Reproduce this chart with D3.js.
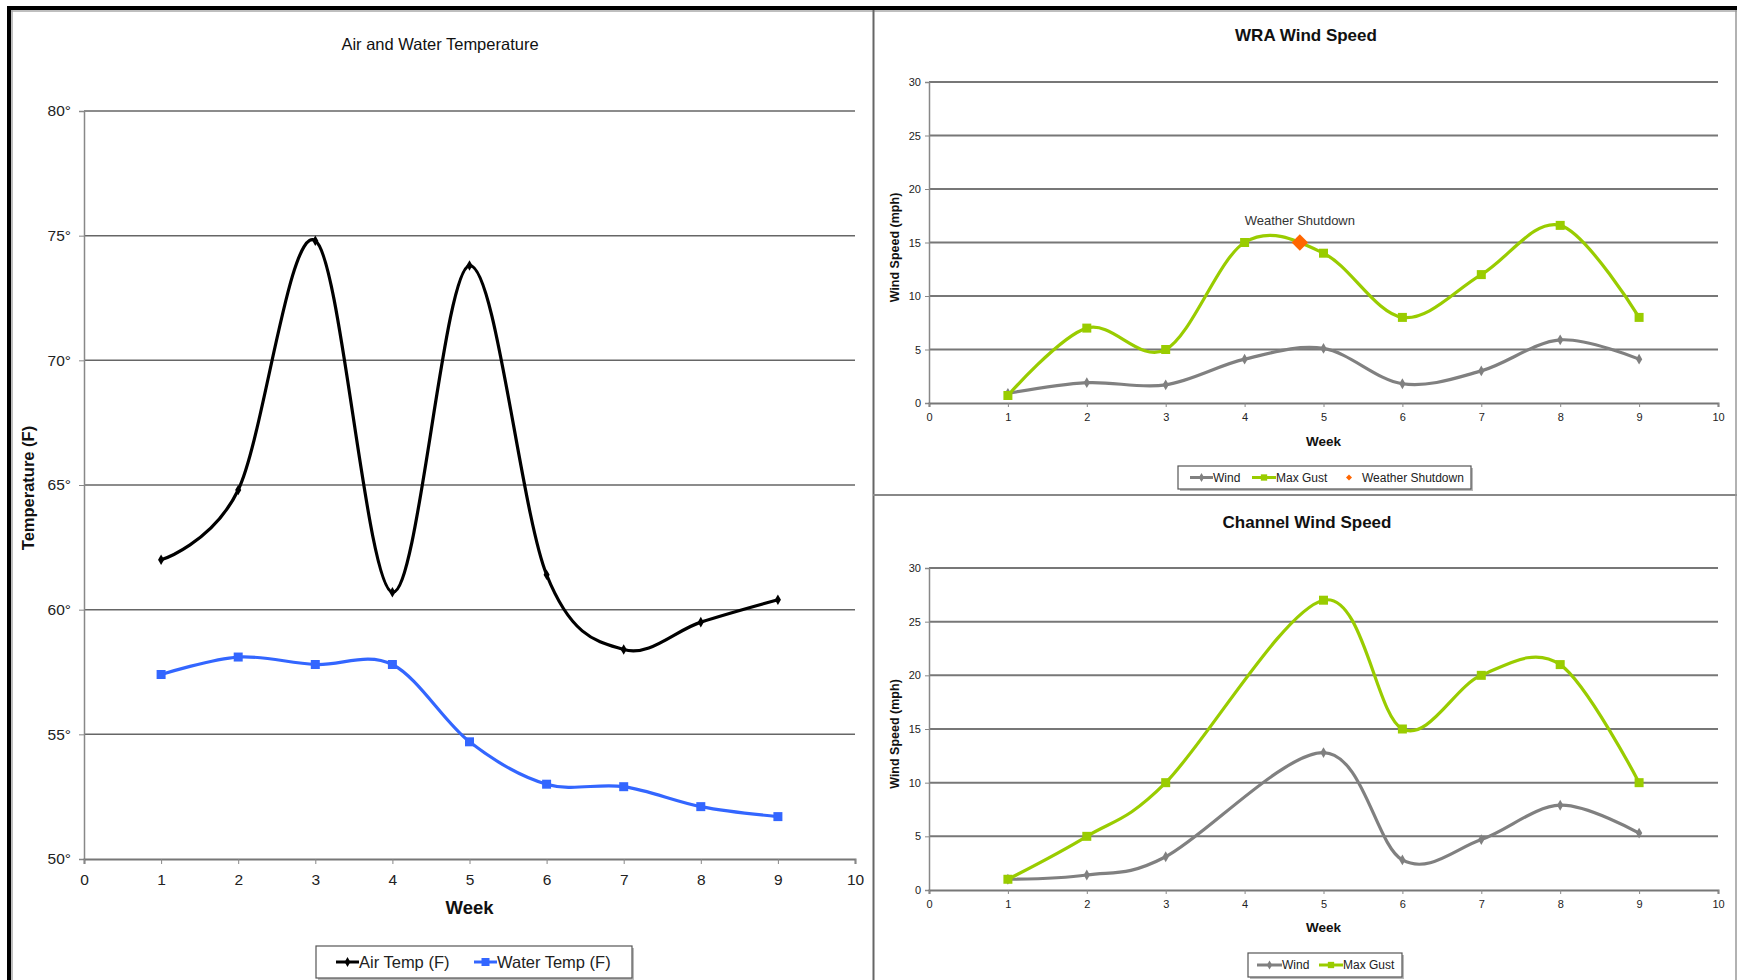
<!DOCTYPE html>
<html>
<head>
<meta charset="utf-8">
<title>Air, Water and Wind</title>
<style>
body { margin: 0; background: #fff; }
svg { display: block; font-family: "Liberation Sans", Arial, sans-serif; }
</style>
</head>
<body>
<svg id="chart"></svg>
<script src="https://cdnjs.cloudflare.com/ajax/libs/d3/7.8.5/d3.min.js"></script>
<script>
// values
var weeks = [1, 2, 3, 4, 5, 6, 7, 8, 9];
var airTemp = [62.0, 64.8, 74.8, 60.7, 73.8, 61.4, 58.4, 59.5, 60.4];
var waterTemp = [57.4, 58.1, 57.8, 57.8, 54.7, 53.0, 52.9, 52.1, 51.7];
var wraWind = [0.9, 1.9, 1.7, 4.1, 5.1, 1.8, 3.0, 5.9, 4.1];
var wraGust = [0.7, 7, 5, 15, 14, 8, 12, 16.6, 8];
var shutdownWeek = [4.7];
var shutdownValue = [15];
var channelWind = [1.0, 1.4, 3.1, null, 12.8, 2.8, 4.7, 7.9, 5.3];
var channelGust = [1, 5, 10, null, 27, 15, 20, 21, 10];
var tempTicks = [50, 55, 60, 65, 70, 75, 80];
var windTicks = [0, 5, 10, 15, 20, 25, 30];
var weekTicks = [0, 1, 2, 3, 4, 5, 6, 7, 8, 9, 10];

var W = 1737, H = 980;
var svg = d3.select('#chart').attr('width', W).attr('height', H);
svg.append('rect').attr('width', W).attr('height', H).attr('fill', '#fff');

function pts(vals) {
  return weeks.map(function(w, i) { return {x: w, y: vals[i]}; })
    .filter(function(d) { return d.y != null; });
}

function drawChart(o) {
  var g = svg.append('g');
  var x = d3.scaleLinear().domain([0, 10]).range([o.left, o.right]);
  var y = d3.scaleLinear().domain(o.yDomain).range([o.bottom, o.top]);

  // gridlines
  g.selectAll('.grid').data(o.yTicks.slice(1)).enter().append('line')
    .attr('x1', o.left).attr('x2', o.right)
    .attr('y1', function(d) { return y(d); }).attr('y2', function(d) { return y(d); })
    .attr('stroke', o.gridColor).attr('stroke-width', o.gridWidth);

  var yAxis = g.append('g').attr('transform', 'translate(' + o.left + ',0)')
    .call(d3.axisLeft(y).tickValues(o.yTicks).tickFormat(o.yFormat).tickSize(o.tick).tickPadding(o.yPad));
  var xAxis = g.append('g').attr('transform', 'translate(0,' + o.bottom + ')')
    .call(d3.axisBottom(x).tickValues(weekTicks).tickSize(o.tick).tickPadding(o.xPad));
  [yAxis, xAxis].forEach(function(a) {
    a.select('.domain').attr('stroke', '#888').attr('stroke-width', 1.5);
    a.selectAll('.tick line').attr('stroke', '#888');
    a.selectAll('text').attr('font-family', null).attr('font-size', o.tickFont).attr('fill', '#222');
  });
  xAxis.select('.domain').attr('stroke', '#777').attr('stroke-width', 2);

  g.append('text').attr('x', o.titleX).attr('y', o.titleY).attr('dy', '0.35em')
    .attr('text-anchor', 'middle').attr('font-size', o.titleFont)
    .attr('font-weight', o.titleBold ? 'bold' : 'normal').attr('fill', '#111').text(o.title);
  g.append('text').attr('x', (o.left + o.right) / 2).attr('y', o.weekY).attr('dy', '0.35em')
    .attr('text-anchor', 'middle').attr('font-size', o.weekFont).attr('font-weight', 'bold')
    .attr('fill', '#111').text('Week');
  g.append('text').attr('transform', 'translate(' + o.yTitleX + ',' + ((o.top + o.bottom) / 2 + o.yTitleShift) + ') rotate(-90)')
    .attr('dy', '0.35em').attr('text-anchor', 'middle').attr('font-size', o.yTitleFont)
    .attr('font-weight', 'bold').attr('fill', '#111').text(o.yTitle);

  var line = d3.line().curve(d3.curveCardinal.tension(0))
    .x(function(d) { return x(d.x); }).y(function(d) { return y(d.y); });

  o.series.forEach(function(s) {
    var data = pts(s.values);
    g.append('path').datum(data).attr('d', line).attr('fill', 'none')
      .attr('stroke', s.color).attr('stroke-width', 3.2).attr('stroke-linejoin', 'round');
    g.selectAll(null).data(data).enter().append('path')
      .attr('transform', function(d) { return 'translate(' + x(d.x) + ',' + y(d.y) + ')'; })
      .attr('d', d3.symbol().type(s.symbol).size(s.size)).attr('fill', s.color);
  });

  if (o.extra) o.extra(g, x, y);

  // legend
  var lg = g.append('g');
  lg.append('rect').attr('x', o.legend.x + 2).attr('y', o.legend.y + 2)
    .attr('width', o.legend.w).attr('height', o.legend.h).attr('fill', '#bbb');
  lg.append('rect').attr('x', o.legend.x).attr('y', o.legend.y)
    .attr('width', o.legend.w).attr('height', o.legend.h).attr('fill', '#fff')
    .attr('stroke', '#555').attr('stroke-width', 1.2);
  var cy = o.legend.y + o.legend.h / 2;
  o.legend.items.forEach(function(it) {
    if (it.line) {
      lg.append('line').attr('x1', it.x).attr('x2', it.x + it.len).attr('y1', cy).attr('y2', cy)
        .attr('stroke', it.color).attr('stroke-width', 3);
    }
    lg.append('path').attr('transform', 'translate(' + (it.x + it.len / 2) + ',' + cy + ')' + (it.rot ? ' rotate(45)' : ''))
      .attr('d', d3.symbol().type(it.symbol).size(it.size)).attr('fill', it.color);
    lg.append('text').attr('x', it.x + it.len + (it.gap || 0)).attr('y', cy).attr('dy', '0.35em')
      .attr('font-size', o.legend.font).attr('fill', '#222').text(it.label);
  });
}

// left chart: temperatures
drawChart({
  left: 84, right: 855, top: 111, bottom: 859,
  yDomain: [50, 80], yTicks: tempTicks, yFormat: function(d) { return d + '°'; },
  gridColor: '#666', gridWidth: 1.5, tick: 5, yPad: 8, xPad: 10, tickFont: 15.5,
  title: 'Air and Water Temperature', titleX: 440, titleY: 44, titleFont: 16.5, titleBold: false,
  weekY: 908, weekFont: 18.5,
  yTitle: 'Temperature (F)', yTitleX: 28, yTitleShift: 3, yTitleFont: 16.5,
  series: [
    {values: airTemp, color: '#000', symbol: d3.symbolDiamond, size: 32},
    {values: waterTemp, color: '#3366ff', symbol: d3.symbolSquare, size: 81}
  ],
  legend: {x: 316, y: 946, w: 316, h: 32, font: 16.5, items: [
    {x: 336, len: 23, line: true, color: '#000', symbol: d3.symbolDiamond, size: 28, label: 'Air Temp (F)'},
    {x: 474, len: 23, line: true, color: '#3366ff', symbol: d3.symbolSquare, size: 64, label: 'Water Temp (F)'}
  ]}
});

// WRA wind speed
drawChart({
  left: 929, right: 1718, top: 82, bottom: 403,
  yDomain: [0, 30], yTicks: windTicks, yFormat: d3.format('d'),
  gridColor: '#777', gridWidth: 2, tick: 4, yPad: 4, xPad: 6, tickFont: 11,
  title: 'WRA Wind Speed', titleX: 1306, titleY: 35, titleFont: 17, titleBold: true,
  weekY: 441, weekFont: 13.5,
  yTitle: 'Wind Speed (mph)', yTitleX: 895, yTitleShift: 5, yTitleFont: 12.5,
  series: [
    {values: wraWind, color: '#808080', symbol: d3.symbolDiamond, size: 34},
    {values: wraGust, color: '#99cc00', symbol: d3.symbolSquare, size: 81}
  ],
  extra: function(g, x, y) {
    g.selectAll(null).data(shutdownWeek).enter().append('path')
      .attr('transform', function(d, i) { return 'translate(' + x(d) + ',' + y(shutdownValue[i]) + ') rotate(45)'; })
      .attr('d', d3.symbol().type(d3.symbolSquare).size(135)).attr('fill', '#ff6600');
    g.selectAll(null).data(shutdownWeek).enter().append('text')
      .attr('x', function(d) { return x(d); })
      .attr('y', function(d, i) { return y(shutdownValue[i]) - 22; })
      .attr('dy', '0.35em').attr('text-anchor', 'middle').attr('font-size', 13)
      .attr('fill', '#333').text('Weather Shutdown');
  },
  legend: {x: 1178, y: 466, w: 293, h: 23, font: 12, items: [
    {x: 1190, len: 23, line: true, color: '#808080', symbol: d3.symbolDiamond, size: 24, label: 'Wind'},
    {x: 1252, len: 24, line: true, color: '#99cc00', symbol: d3.symbolSquare, size: 40, label: 'Max Gust'},
    {x: 1343, len: 12, line: false, color: '#ff6600', symbol: d3.symbolSquare, size: 18, rot: true, label: 'Weather Shutdown', gap: 7}
  ]}
});

// Channel wind speed
drawChart({
  left: 929, right: 1718, top: 568, bottom: 890,
  yDomain: [0, 30], yTicks: windTicks, yFormat: d3.format('d'),
  gridColor: '#777', gridWidth: 2, tick: 4, yPad: 4, xPad: 6, tickFont: 11,
  title: 'Channel Wind Speed', titleX: 1307, titleY: 522, titleFont: 17, titleBold: true,
  weekY: 927, weekFont: 13.5,
  yTitle: 'Wind Speed (mph)', yTitleX: 895, yTitleShift: 5, yTitleFont: 12.5,
  series: [
    {values: channelWind, color: '#808080', symbol: d3.symbolDiamond, size: 34},
    {values: channelGust, color: '#99cc00', symbol: d3.symbolSquare, size: 81}
  ],
  legend: {x: 1248, y: 953, w: 154, h: 24, font: 12, items: [
    {x: 1257, len: 25, line: true, color: '#808080', symbol: d3.symbolDiamond, size: 24, label: 'Wind'},
    {x: 1319, len: 24, line: true, color: '#99cc00', symbol: d3.symbolSquare, size: 40, label: 'Max Gust'}
  ]}
});

// sheet frame and panel dividers
svg.append('rect').attr('x', 7).attr('y', 6).attr('width', W - 7).attr('height', 4).attr('fill', '#000');
svg.append('rect').attr('x', 7).attr('y', 6).attr('width', 4).attr('height', H - 6).attr('fill', '#000');
svg.append('line').attr('x1', 11).attr('x2', W).attr('y1', 11).attr('y2', 11).attr('stroke', '#aaa').attr('stroke-width', 1.5);
svg.append('line').attr('x1', 12).attr('x2', 12).attr('y1', 10).attr('y2', H).attr('stroke', '#aaa').attr('stroke-width', 1.5);
svg.append('line').attr('x1', 873.5).attr('x2', 873.5).attr('y1', 10).attr('y2', H).attr('stroke', '#666').attr('stroke-width', 2);
svg.append('line').attr('x1', 873).attr('x2', W).attr('y1', 495).attr('y2', 495).attr('stroke', '#888').attr('stroke-width', 2);
svg.append('line').attr('x1', W - 1).attr('x2', W - 1).attr('y1', 10).attr('y2', H).attr('stroke', '#999').attr('stroke-width', 1.5);
</script>
</body>
</html>
